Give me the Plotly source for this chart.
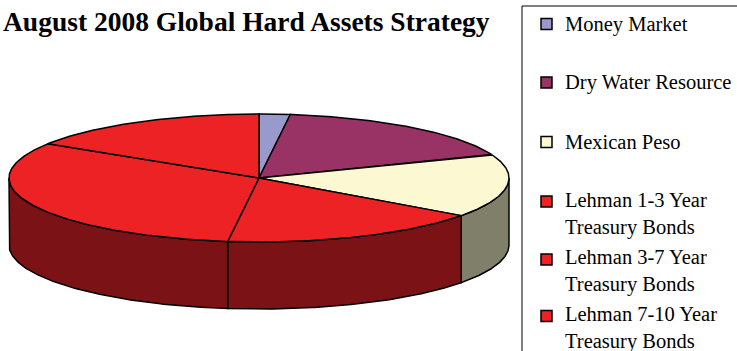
import numpy as np
import plotly.graph_objects as go

# Allocation data
labels = ["Money Market", "Dry Water Resource", "Mexican Peso",
          "Lehman 1-3 Year<br>Treasury Bonds", "Lehman 3-7 Year<br>Treasury Bonds",
          "Lehman 7-10 Year<br>Treasury Bonds"]
values = [2, 17, 16, 17, 32, 16]
top_colors = ["#9999CC", "#993366", "#FCF8D2", "#ED2224", "#ED2224", "#ED2224"]
side_colors = ["#4D4D66", "#4D1A33", "#80806A", "#7B1316", "#7B1316", "#7B1316"]

W, H = 737, 351
cx, cy, rx, ry, depth = 259, 178, 250, 64, 67


def rim(t_deg, dy=0.0):
    t = np.radians(t_deg)
    return cx + rx * np.sin(t), cy - ry * np.cos(t) + dy


fig = go.Figure()

total = float(sum(values))
bounds = np.concatenate([[0], np.cumsum(values) / total * 360.0])

# Side walls (front half of the disc only)
for i in range(len(values)):
    a, b = bounds[i], bounds[i + 1]
    lo, hi = max(a, 90.0), min(b, 270.0)
    if lo >= hi:
        continue
    t = np.linspace(lo, hi, 120)
    xt, yt = rim(t)
    xb, yb = rim(t[::-1], depth)
    xs = np.concatenate([xt, xb, [xt[0]]])
    ys = np.concatenate([yt, yb, [yt[0]]])
    fig.add_trace(go.Scatter(x=xs, y=ys, mode="lines", fill="toself",
                             fillcolor=side_colors[i],
                             line=dict(color="black", width=1.5),
                             hoverinfo="skip", showlegend=False))

# Top faces
for i in range(len(values)):
    a, b = bounds[i], bounds[i + 1]
    t = np.linspace(a, b, max(int((b - a) * 2), 8))
    xt, yt = rim(t)
    xs = np.concatenate([[cx], xt, [cx]])
    ys = np.concatenate([[cy], yt, [cy]])
    fig.add_trace(go.Scatter(x=xs, y=ys, mode="lines", fill="toself",
                             fillcolor=top_colors[i],
                             line=dict(color="black", width=1.5),
                             name=labels[i].replace("<br>", " "),
                             hovertemplate="%{fullData.name}: " + f"{values[i]}%<extra></extra>",
                             showlegend=False))

# Legend box
shapes = [dict(type="rect", xref="x", yref="y", x0=522, y0=6, x1=745, y1=360,
               line=dict(color="black", width=1), fillcolor="white", layer="below")]
annotations = [dict(text="<b>August 2008 Global Hard Assets Strategy</b>", x=1, y=21,
                    xref="x", yref="y", xanchor="left", yanchor="middle", showarrow=False,
                    font=dict(family="Liberation Serif", size=27.5, color="black"))]

legend_y = [24, 82.5, 142, 214, 271, 328]
sq_y = [24, 82.5, 142, 201.5, 259.5, 316]
for i, lab in enumerate(labels):
    shapes.append(dict(type="rect", xref="x", yref="y", x0=541, x1=552,
                       y0=sq_y[i] - 5.5, y1=sq_y[i] + 5.5,
                       fillcolor=top_colors[i], line=dict(color="black", width=1.5)))
    annotations.append(dict(text=lab, x=563, y=legend_y[i], xref="x", yref="y",
                            xanchor="left", yanchor="middle", align="left",
                            showarrow=False,
                            font=dict(family="Liberation Serif", size=20.5, color="black")))

fig.update_layout(
    width=W, height=H, margin=dict(l=0, r=0, t=0, b=0),
    paper_bgcolor="white", plot_bgcolor="white",
    xaxis=dict(range=[0, W], visible=False, fixedrange=True),
    yaxis=dict(range=[H, 0], visible=False, fixedrange=True),
    shapes=shapes, annotations=annotations, showlegend=False,
)

fig.write_html("out.html")
